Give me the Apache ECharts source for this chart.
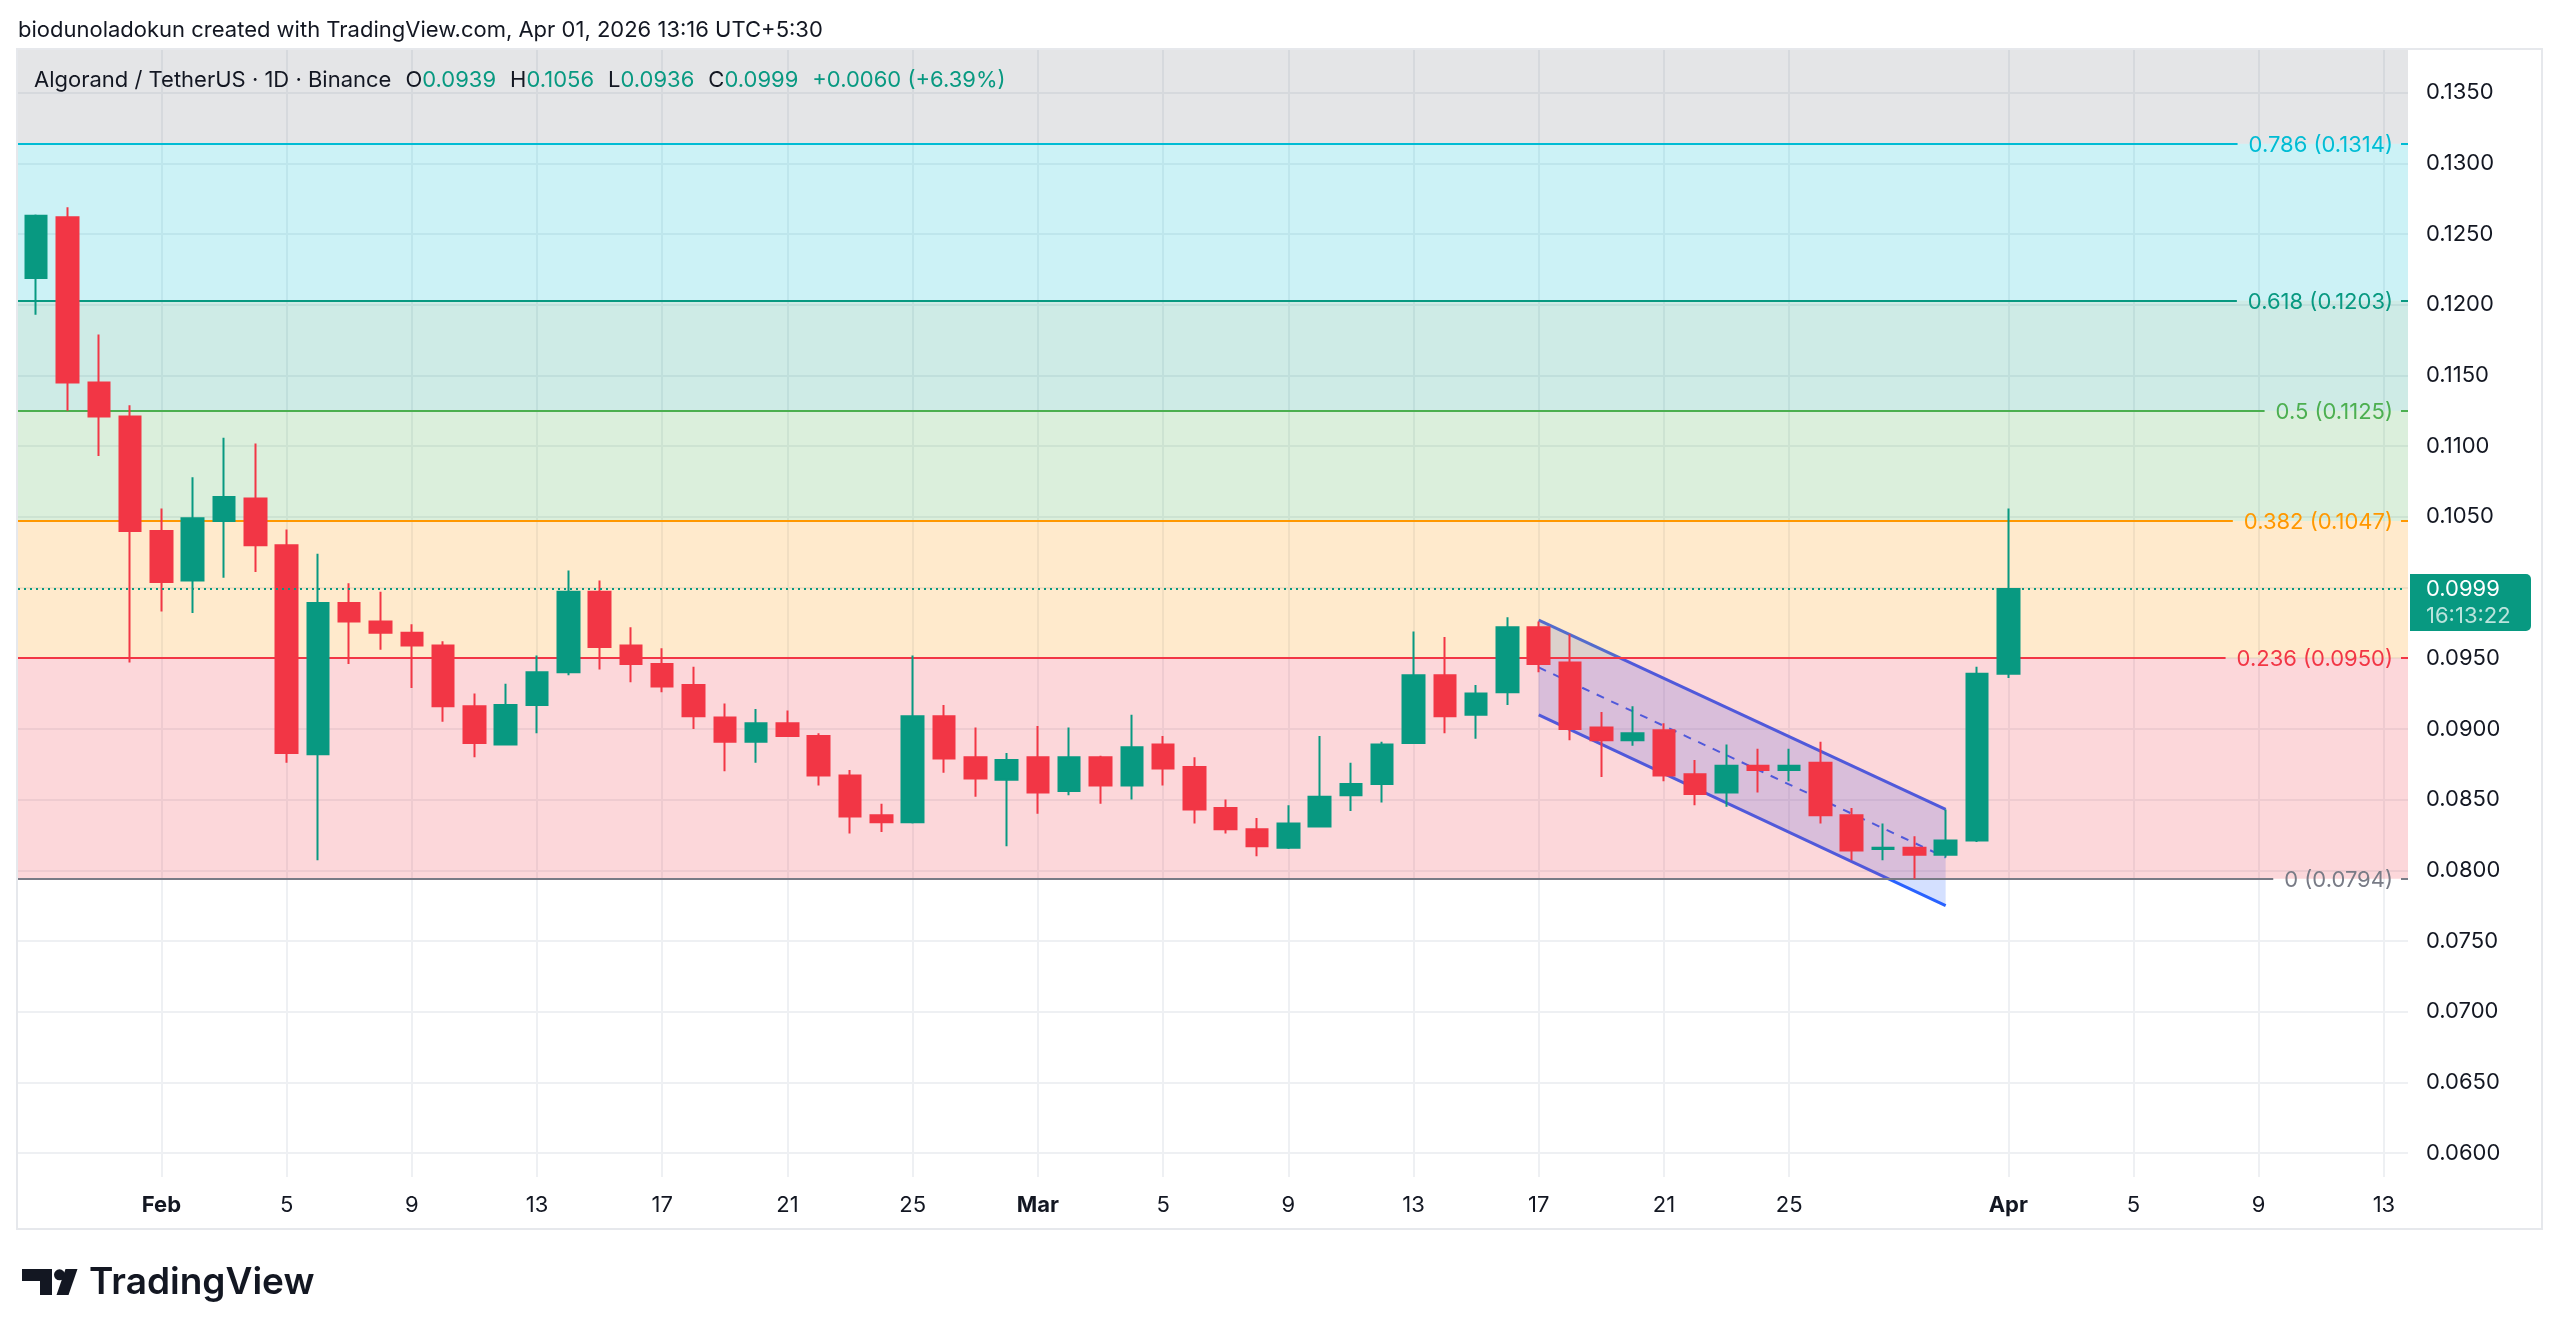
<!DOCTYPE html>
<html>
<head>
<meta charset="utf-8">
<title>Algorand / TetherUS 1D</title>
<script src="https://cdn.jsdelivr.net/npm/echarts@6/dist/echarts.min.js"></script>
<style>
html, body { margin: 0; padding: 0; background: #ffffff; }
#main { width: 2560px; height: 1340px; }
</style>
</head>
<body>
<div id="main"></div>
<script>
// daily candles, Jan 28 -> Apr 1 2026
const dates = [
  '2026-01-28','2026-01-29','2026-01-30','2026-01-31',
  '2026-02-01','2026-02-02','2026-02-03','2026-02-04','2026-02-05','2026-02-06','2026-02-07','2026-02-08','2026-02-09','2026-02-10',
  '2026-02-11','2026-02-12','2026-02-13','2026-02-14','2026-02-15','2026-02-16','2026-02-17','2026-02-18','2026-02-19','2026-02-20',
  '2026-02-21','2026-02-22','2026-02-23','2026-02-24','2026-02-25','2026-02-26','2026-02-27','2026-02-28',
  '2026-03-01','2026-03-02','2026-03-03','2026-03-04','2026-03-05','2026-03-06','2026-03-07','2026-03-08','2026-03-09','2026-03-10',
  '2026-03-11','2026-03-12','2026-03-13','2026-03-14','2026-03-15','2026-03-16','2026-03-17','2026-03-18','2026-03-19','2026-03-20',
  '2026-03-21','2026-03-22','2026-03-23','2026-03-24','2026-03-25','2026-03-26','2026-03-27','2026-03-28','2026-03-29','2026-03-30',
  '2026-03-31',
  '2026-04-01'
];
const opens = [
  0.1219, 0.1262, 0.1145, 0.1121,
  0.1040, 0.1005, 0.1047, 0.1063, 0.1030, 0.0882, 0.0989, 0.0976, 0.0968, 0.0959,
  0.0916, 0.0889, 0.0917, 0.0940, 0.0997, 0.0959, 0.0946, 0.0931, 0.0908, 0.0891,
  0.0904, 0.0895, 0.0867, 0.0839, 0.0834, 0.0909, 0.0880, 0.0864,
  0.0880, 0.0856, 0.0880, 0.0860, 0.0889, 0.0873, 0.0844, 0.0829, 0.0816, 0.0831,
  0.0853, 0.0861, 0.0890, 0.0938, 0.0910, 0.0926, 0.0972, 0.0947, 0.0901, 0.0892,
  0.0899, 0.0868, 0.0855, 0.0874, 0.0871, 0.0876, 0.0839, 0.0815, 0.0816, 0.0811,
  0.0821,
  0.0939
];
const closes = [
  0.1263, 0.1145, 0.1121, 0.1040,
  0.1004, 0.1049, 0.1064, 0.1030, 0.0883, 0.0989, 0.0976, 0.0968, 0.0959, 0.0916,
  0.0890, 0.0917, 0.0940, 0.0997, 0.0958, 0.0946, 0.0930, 0.0909, 0.0891, 0.0904,
  0.0895, 0.0867, 0.0838, 0.0834, 0.0909, 0.0879, 0.0865, 0.0878,
  0.0855, 0.0880, 0.0860, 0.0887, 0.0872, 0.0843, 0.0829, 0.0817, 0.0833, 0.0852,
  0.0861, 0.0889, 0.0938, 0.0909, 0.0925, 0.0972, 0.0946, 0.0900, 0.0892, 0.0897,
  0.0867, 0.0854, 0.0874, 0.0871, 0.0874, 0.0839, 0.0814, 0.0816, 0.0811, 0.0821,
  0.0939,
  0.0999
];
const lows = [
  0.1193, 0.1125, 0.1093, 0.0947,
  0.0983, 0.0982, 0.1007, 0.1011, 0.0876, 0.0807, 0.0946, 0.0956, 0.0929, 0.0905,
  0.0880, 0.0889, 0.0897, 0.0938, 0.0942, 0.0933, 0.0926, 0.0900, 0.0870, 0.0876,
  0.0895, 0.0860, 0.0826, 0.0827, 0.0833, 0.0869, 0.0852, 0.0817,
  0.0840, 0.0853, 0.0847, 0.0850, 0.0860, 0.0833, 0.0826, 0.0810, 0.0815, 0.0831,
  0.0842, 0.0848, 0.0890, 0.0897, 0.0893, 0.0917, 0.0940, 0.0892, 0.0866, 0.0888,
  0.0863, 0.0846, 0.0845, 0.0855, 0.0863, 0.0833, 0.0807, 0.0807, 0.0794, 0.0809,
  0.0820,
  0.0936
];
const highs = [
  0.1264, 0.1269, 0.1179, 0.1129,
  0.1056, 0.1078, 0.1106, 0.1102, 0.1041, 0.1024, 0.1003, 0.0997, 0.0974, 0.0962,
  0.0925, 0.0932, 0.0952, 0.1012, 0.1005, 0.0972, 0.0957, 0.0944, 0.0918, 0.0914,
  0.0913, 0.0897, 0.0871, 0.0847, 0.0952, 0.0917, 0.0901, 0.0883,
  0.0902, 0.0901, 0.0881, 0.0910, 0.0895, 0.0880, 0.0850, 0.0837, 0.0846, 0.0895,
  0.0876, 0.0891, 0.0969, 0.0965, 0.0931, 0.0979, 0.0976, 0.0967, 0.0912, 0.0916,
  0.0904, 0.0878, 0.0889, 0.0886, 0.0886, 0.0891, 0.0844, 0.0833, 0.0824, 0.0843,
  0.0944,
  0.1056
];

// axis ticks
const tickDates = [
  '2026-02-01','2026-02-05','2026-02-09','2026-02-13','2026-02-17','2026-02-21','2026-02-25',
  '2026-03-01','2026-03-05','2026-03-09','2026-03-13','2026-03-17','2026-03-21','2026-03-25',
  '2026-04-01','2026-04-05','2026-04-09','2026-04-13'
];
const priceTicks = [0.0600, 0.0650, 0.0700, 0.0750, 0.0800, 0.0850, 0.0900, 0.0950,
  0.1000, 0.1050, 0.1100, 0.1150, 0.1200, 0.1250, 0.1300, 0.1350];

// fib retracement
const fibLevels = [0, 0.236, 0.382, 0.5, 0.618, 0.786, 1];
const fibPrices = [0.0794, 0.0950, 0.1047, 0.1125, 0.1203, 0.1314, 0.1455];
const fibColors = ['#787b86', '#f23645', '#ff9800', '#4caf50', '#089981', '#00bcd4', '#787b86'];

// parallel channel
const channelDates = ['2026-03-17', '2026-03-30'];
const channelUpper = [0.0977, 0.0843];
const channelLower = [0.0910, 0.0775];

const countdown = '16:13:22';

const FONT = 'Inter';
const TEXT = '#131722';
const UP = '#089981';
const DOWN = '#f23645';
const months = ['Jan','Feb','Mar','Apr','May','Jun','Jul','Aug','Sep','Oct','Nov','Dec'];

const xMin = 26.42, xMax = 102.77;
const yMin = 0.0583, yMax = 0.1381;

function dayNum(s) {
    const p = s.split('-');
    return (Date.UTC(+p[0], +p[1] - 1, +p[2]) - Date.UTC(2026, 0, 1)) / 864e5;
}

function withAlpha(hex, a) {
    const n = parseInt(hex.slice(1), 16);
    return 'rgba(' + (n >> 16) + ',' + ((n >> 8) & 255) + ',' + (n & 255) + ',' + a + ')';
}

const measureCtx = document.createElement('canvas').getContext('2d');
function textWidth(t, size) {
    measureCtx.font = size + 'px ' + FONT;
    return measureCtx.measureText(t).width;
}

const candles = dates.map((d, i) => [dayNum(d), opens[i], closes[i], lows[i], highs[i]]);
const last = candles.length - 1;
const lastPrice = closes[last];
const change = closes[last] - closes[last - 1];
const changePct = change / closes[last - 1] * 100;

function renderChannel(params, api) {
    const x0 = dayNum(channelDates[0]), x1 = dayNum(channelDates[1]);
    const u0 = api.coord([x0, channelUpper[0]]), u1 = api.coord([x1, channelUpper[1]]);
    const l0 = api.coord([x0, channelLower[0]]), l1 = api.coord([x1, channelLower[1]]);
    const m0 = api.coord([x0, (channelUpper[0] + channelLower[0]) / 2]);
    const m1 = api.coord([x1, (channelUpper[1] + channelLower[1]) / 2]);
    return {
        type: 'group',
        children: [
            { type: 'polygon', shape: { points: [u0, u1, l1, l0] }, style: { fill: 'rgba(41,98,255,0.2)' } },
            { type: 'line', shape: { x1: u0[0], y1: u0[1], x2: u1[0], y2: u1[1] }, style: { stroke: '#2962ff', lineWidth: 3 } },
            { type: 'line', shape: { x1: l0[0], y1: l0[1], x2: l1[0], y2: l1[1] }, style: { stroke: '#2962ff', lineWidth: 3 } },
            { type: 'line', shape: { x1: m0[0], y1: m0[1], x2: m1[0], y2: m1[1] }, style: { stroke: '#2962ff', lineWidth: 2, lineDash: [8, 8] } }
        ]
    };
}

function renderBand(params, api) {
    const i = params.dataIndex;
    const cs = params.coordSys;
    const y1 = api.coord([xMin, fibPrices[i]])[1];
    const y2 = api.coord([xMin, fibPrices[i + 1]])[1];
    const top = Math.max(Math.min(y1, y2), cs.y);
    const bottom = Math.min(Math.max(y1, y2), cs.y + cs.height);
    if (bottom <= top) return null;
    return {
        type: 'rect',
        shape: { x: cs.x, y: top, width: cs.width, height: bottom - top },
        style: { fill: withAlpha(fibColors[i + 1], 0.2) }
    };
}

function renderFibLine(params, api) {
    const i = params.dataIndex;
    const cs = params.coordSys;
    const y = Math.round(api.coord([xMin, fibPrices[i]])[1]);
    if (y < cs.y || y > cs.y + cs.height) return null;
    const label = fibLevels[i] + ' (' + fibPrices[i].toFixed(4) + ')';
    const right = cs.x + cs.width;
    const textRight = right - 15;
    const w = textWidth(label, 22);
    const color = fibColors[i];
    return {
        type: 'group',
        children: [
            { type: 'line', shape: { x1: cs.x, y1: y, x2: textRight - w - 11, y2: y }, style: { stroke: color, lineWidth: 2 } },
            { type: 'text', x: textRight, y: y + 1, style: { text: label, fill: color, fontSize: 22, fontFamily: FONT, align: 'right', verticalAlign: 'middle' } },
            { type: 'line', shape: { x1: textRight + 8, y1: y, x2: right, y2: y }, style: { stroke: color, lineWidth: 2 } }
        ]
    };
}

function renderLastPrice(params, api) {
    const cs = params.coordSys;
    const y = Math.round(api.coord([xMin, lastPrice])[1]);
    const right = cs.x + cs.width;
    return {
        type: 'group',
        children: [
            { type: 'line', shape: { x1: cs.x, y1: y, x2: right - 2, y2: y }, style: { stroke: UP, lineWidth: 2, lineDash: [2, 4] } },
            { type: 'rect', shape: { x: right + 2, y: y - 15, width: 121, height: 57, r: [0, 5, 5, 0] }, style: { fill: UP } },
            { type: 'text', x: right + 18, y: y, style: { text: lastPrice.toFixed(4), fill: '#ffffff', fontSize: 22, fontFamily: FONT, verticalAlign: 'middle' } },
            { type: 'text', x: right + 18, y: y + 27, style: { text: countdown, fill: 'rgba(255,255,255,0.72)', fontSize: 22, fontFamily: FONT, verticalAlign: 'middle' } }
        ]
    };
}

const legendText =
    '{d|Algorand / TetherUS · 1D · Binance}{s| }' +
    '{d|O}{g|' + opens[last].toFixed(4) + '}{s| }' +
    '{d|H}{g|' + highs[last].toFixed(4) + '}{s| }' +
    '{d|L}{g|' + lows[last].toFixed(4) + '}{s| }' +
    '{d|C}{g|' + closes[last].toFixed(4) + '}{s| }' +
    '{g|' + (change >= 0 ? '+' : '') + change.toFixed(4) + ' (' + (changePct >= 0 ? '+' : '') + changePct.toFixed(2) + '%)}';

const chart = echarts.init(document.getElementById('main'));

chart.setOption({
    animation: false,
    backgroundColor: '#ffffff',
    textStyle: { fontFamily: FONT },
    grid: { left: 18, top: 49, width: 2390, height: 1128 },
    xAxis: {
        type: 'value',
        min: xMin,
        max: xMax,
        axisLine: { show: false },
        axisTick: { show: false, customValues: tickDates.map(dayNum) },
        splitLine: { show: true, lineStyle: { color: '#eef0f3', width: 2 } },
        axisLabel: {
            customValues: tickDates.map(dayNum),
            margin: 17,
            color: TEXT,
            fontSize: 22,
            fontFamily: FONT,
            formatter: function (v) {
                const d = new Date(Date.UTC(2026, 0, 1) + Math.round(v) * 864e5);
                return d.getUTCDate() === 1 ? '{b|' + months[d.getUTCMonth()] + '}' : String(d.getUTCDate());
            },
            rich: { b: { fontWeight: 'bold', fontSize: 22, fontFamily: FONT, color: TEXT } }
        }
    },
    yAxis: {
        type: 'value',
        position: 'right',
        min: yMin,
        max: yMax,
        axisLine: { show: false },
        axisTick: { show: false, customValues: priceTicks },
        splitLine: { show: true, lineStyle: { color: '#eef0f3', width: 2 } },
        axisLabel: {
            customValues: priceTicks,
            margin: 18,
            color: TEXT,
            fontSize: 22,
            fontFamily: FONT,
            formatter: v => v.toFixed(4)
        }
    },
    series: [
        {
            type: 'custom', name: 'channel', z: 1, silent: true, clip: true,
            data: [[dayNum(channelDates[0]), channelUpper[0]]],
            renderItem: renderChannel
        },
        {
            type: 'custom', name: 'fibBands', z: 2, silent: true,
            data: fibPrices.slice(0, -1).map(p => [xMin, p]),
            renderItem: renderBand
        },
        {
            type: 'custom', name: 'fibLines', z: 3, silent: true,
            data: fibPrices.map(p => [xMin, p]),
            renderItem: renderFibLine
        },
        {
            type: 'candlestick', name: 'ALGOUSDT', z: 4,
            barWidth: 22,
            data: candles,
            itemStyle: { color: UP, color0: DOWN, borderColor: UP, borderColor0: DOWN, borderWidth: 2 }
        },
        {
            type: 'custom', name: 'lastPrice', z: 5, silent: true, clip: false,
            data: [[xMin, lastPrice]],
            renderItem: renderLastPrice
        }
    ],
    graphic: [
        { type: 'rect', z: 100, silent: true, shape: { x: 17, y: 49, width: 2525, height: 1180 }, style: { fill: null, stroke: '#e6e8ec', lineWidth: 2 } },
        { type: 'text', z: 100, x: 18, y: 30, style: { text: 'biodunoladokun created with TradingView.com, Apr 01, 2026 13:16 UTC+5:30', fill: TEXT, fontSize: 22, fontFamily: FONT, verticalAlign: 'middle' } },
        { type: 'text', z: 100, x: 34, y: 80, style: { text: legendText, verticalAlign: 'middle', rich: {
            d: { fill: TEXT, fontSize: 22, fontFamily: FONT },
            g: { fill: UP, fontSize: 22, fontFamily: FONT },
            s: { width: 14, fontSize: 22 }
        } } },
        // TradingView logo
        { type: 'polygon', z: 100, shape: { points: [[22, 1269], [52, 1269], [52, 1295], [40, 1295], [40, 1281], [22, 1281]] }, style: { fill: '#131722' } },
        { type: 'circle', z: 100, shape: { cx: 59.5, cy: 1274.8, r: 5.5 }, style: { fill: '#131722' } },
        { type: 'polygon', z: 100, shape: { points: [[65.5, 1269], [77.5, 1269], [68.5, 1295], [56.5, 1295]] }, style: { fill: '#131722' } },
        { type: 'text', z: 100, x: 89, y: 1283, style: { text: 'TradingView', fill: '#131722', fontSize: 37, fontWeight: 600, fontFamily: FONT, verticalAlign: 'middle' } }
    ]
});
</script>
</body>
</html>
